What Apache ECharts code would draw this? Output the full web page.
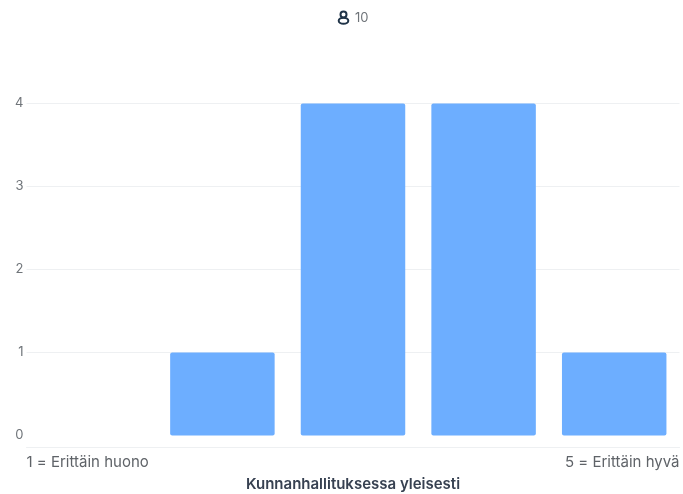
<!DOCTYPE html>
<html>
<head>
<meta charset="utf-8">
<style>html,body{margin:0;padding:0;background:#fff}#c{width:683px;height:494px}</style>
<script src="https://cdn.jsdelivr.net/npm/echarts@6/dist/echarts.min.js"></script>
</head>
<body>
<div id="c"></div>
<script>
const categories = ['1', '2', '3', '4', '5'];
const counts = [0, 1, 4, 4, 1];
const endLabels = ['1 = Erittäin huono', '5 = Erittäin hyvä'];
const axisTitle = 'Kunnanhallituksessa yleisesti';
const respondents = '10';
const yTicks = { min: 0, max: 4, interval: 1 };

const font = 'Inter';
const chart = echarts.init(document.getElementById('c'), null, { renderer: 'canvas' });
chart.setOption({
  animation: false,
  backgroundColor: '#ffffff',
  grid: { left: 26.5, right: 3.5, top: 103.5, bottom: 58.5, containLabel: false, outerBoundsMode: 'none' },
  graphic: [
    { type: 'circle', shape: { cx: 343.5, cy: 14.6, r: 3 }, style: { fill: 'none', stroke: '#1f3347', lineWidth: 2 } },
    { type: 'ellipse', shape: { cx: 343.5, cy: 20.7, rx: 4.8, ry: 3 }, style: { fill: 'none', stroke: '#1f3347', lineWidth: 2 } },
    { type: 'text', left: 355, top: 11.5, style: { text: respondents, font: '13px ' + font, fill: '#6f7479' } }
  ],
  xAxis: [
    {
      type: 'category',
      data: categories,
      position: 'bottom',
      offset: 12,
      axisLine: { show: false },
      axisTick: { show: false },
      axisLabel: { show: false },
      name: axisTitle,
      nameLocation: 'middle',
      nameGap: 29,
      nameTextStyle: { fontFamily: font, fontSize: 15, fontWeight: 600, color: '#374151' }
    },
    {
      type: 'category',
      data: endLabels,
      boundaryGap: false,
      position: 'bottom',
      offset: 12,
      axisLine: { show: true, lineStyle: { color: '#eef0f2', width: 1 } },
      axisTick: { show: false },
      axisLabel: {
        show: true, interval: 0, margin: 7,
        alignMinLabel: 'left', alignMaxLabel: 'right',
        fontFamily: font, fontSize: 15, color: '#5f6368'
      }
    }
  ],
  yAxis: {
    type: 'value',
    min: yTicks.min, max: yTicks.max, interval: yTicks.interval,
    axisLine: { show: false },
    axisTick: { show: false },
    axisLabel: { margin: 3, padding: [2, 0, 0, 0], fontFamily: font, fontSize: 13, color: '#6f7479' },
    splitLine: { show: true, showMinLine: false, lineStyle: { color: '#eef0f2', width: 1 } }
  },
  series: [{
    type: 'bar',
    xAxisIndex: 0,
    data: counts,
    barCategoryGap: '20%',
    itemStyle: { color: '#6daeff', borderRadius: 2 }
  }]
});
</script>
</body>
</html>
